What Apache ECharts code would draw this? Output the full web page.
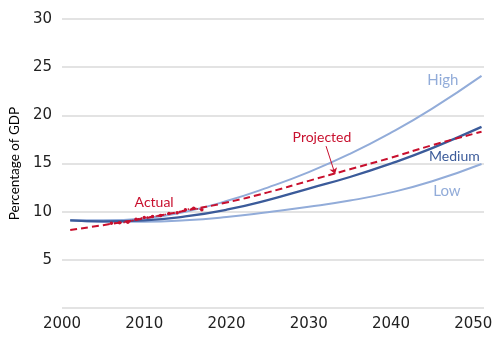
<!DOCTYPE html>
<html>
<head>
<meta charset="utf-8">
<script src="https://cdn.jsdelivr.net/npm/echarts@6/dist/echarts.min.js"></script>
<style>html,body{margin:0;padding:0;background:#fff}#c{width:500px;height:337px}</style>
</head>
<body>
<div id="c"></div>
<script>
const years = [2001, 2005, 2010, 2015, 2020, 2025, 2030, 2035, 2040, 2045, 2051];
const high = [9.1, 9.1, 9.3, 10.0, 11.1, 12.5, 14.1, 16.0, 18.2, 20.7, 24.1];
const medium = [9.1, 9.0, 9.1, 9.5, 10.2, 11.2, 12.4, 13.6, 15.0, 16.6, 18.8];
const low = [9.1, 8.95, 8.95, 9.1, 9.45, 9.95, 10.5, 11.15, 12.0, 13.15, 14.95];
const projected = [8.1, 8.6, 9.3, 10.1, 10.95, 12.0, 13.2, 14.4, 15.6, 16.9, 18.3];
const actualYears = [2006, 2007, 2008, 2009, 2010, 2011, 2012, 2013, 2014, 2015, 2016, 2017];
const actual = [8.8, 8.85, 8.9, 9.2, 9.4, 9.5, 9.6, 9.8, 9.9, 10.2, 10.35, 10.2];
const yTicks = [0, 5, 10, 15, 20, 25, 30];
const xTicks = [2000, 2010, 2020, 2030, 2040, 2050];

const pair = (xs, ys) => xs.map((x, i) => [x, ys[i]]);
const lightBlue = '#92acd9';
const darkBlue = '#3b5b9a';
const red = '#c8102e';

const chart = echarts.init(document.getElementById('c'), null, {renderer: 'canvas'});
chart.setOption({
  animation: false,
  grid: {left: 60, right: 16, top: 19, bottom: 29},
  xAxis: {
    type: 'value', min: 2000, max: 2051.3, interval: 10,
    axisLine: {show: false}, axisTick: {show: false}, splitLine: {show: false},
    axisLabel: {
      margin: 9, color: '#222', fontSize: 15, fontFamily: 'DejaVu Sans',
      formatter: v => xTicks.includes(v) ? String(v) : ''
    }
  },
  yAxis: {
    type: 'value', min: yTicks[0], max: yTicks[yTicks.length - 1], interval: 5,
    name: 'Percentage of GDP', nameLocation: 'middle', nameGap: 34,
    nameTextStyle: {color: '#000', fontSize: 13.5, fontFamily: 'Lato'},
    axisLine: {show: false}, axisTick: {show: false},
    splitLine: {lineStyle: {color: '#dadada', width: 1.5}},
    axisLabel: {
      margin: 10, color: '#222', fontSize: 15, fontFamily: 'DejaVu Sans',
      formatter: v => v === 0 ? '' : String(v)
    }
  },
  series: [
    {
      name: 'Low', type: 'line', smooth: true, symbol: 'none', data: pair(years, low),
      lineStyle: {color: lightBlue, width: 2},
      markPoint: {symbol: 'circle', symbolSize: 0, data: [{coord: [2046.8, 12.1], label: {show: true, formatter: 'Low', color: lightBlue, fontSize: 15, fontFamily: 'Lato'}}]}
    },
    {
      name: 'High', type: 'line', smooth: true, symbol: 'none', data: pair(years, high),
      lineStyle: {color: lightBlue, width: 2},
      markPoint: {symbol: 'circle', symbolSize: 0, data: [{coord: [2046.3, 23.7], label: {show: true, formatter: 'High', color: lightBlue, fontSize: 15, fontFamily: 'Lato'}}]}
    },
    {
      name: 'Medium', type: 'line', smooth: true, symbol: 'none', data: pair(years, medium),
      lineStyle: {color: darkBlue, width: 2.3},
      markPoint: {symbol: 'circle', symbolSize: 0, data: [{coord: [2047.7, 15.7], label: {show: true, formatter: 'Medium', color: darkBlue, fontSize: 14, fontFamily: 'Lato'}}]}
    },
    {
      name: 'Projected', type: 'line', smooth: true, symbol: 'none', data: pair(years, projected),
      lineStyle: {color: red, width: 2, type: [7, 4]},
      markPoint: {symbol: 'circle', symbolSize: 0, data: [{coord: [2031.6, 17.75], label: {show: true, formatter: 'Projected', color: red, fontSize: 14, fontFamily: 'Lato'}}]},
      markLine: {
        silent: true, symbol: ['none', 'arrow'], symbolSize: 6,
        lineStyle: {color: red, width: 1, type: 'solid'}, label: {show: false},
        data: [[{coord: [2032.1, 16.8]}, {coord: [2033.2, 13.9]}]]
      }
    },
    {
      name: 'Actual', type: 'line', symbol: 'circle', symbolSize: 3.5, data: pair(actualYears, actual),
      lineStyle: {color: red, width: 1.5, type: 'dotted'}, itemStyle: {color: red},
      markPoint: {symbol: 'circle', symbolSize: 0, data: [{coord: [2011.2, 11.0], label: {show: true, formatter: 'Actual', color: red, fontSize: 14, fontFamily: 'Lato'}}]}
    }
  ]
});
</script>
</body>
</html>
